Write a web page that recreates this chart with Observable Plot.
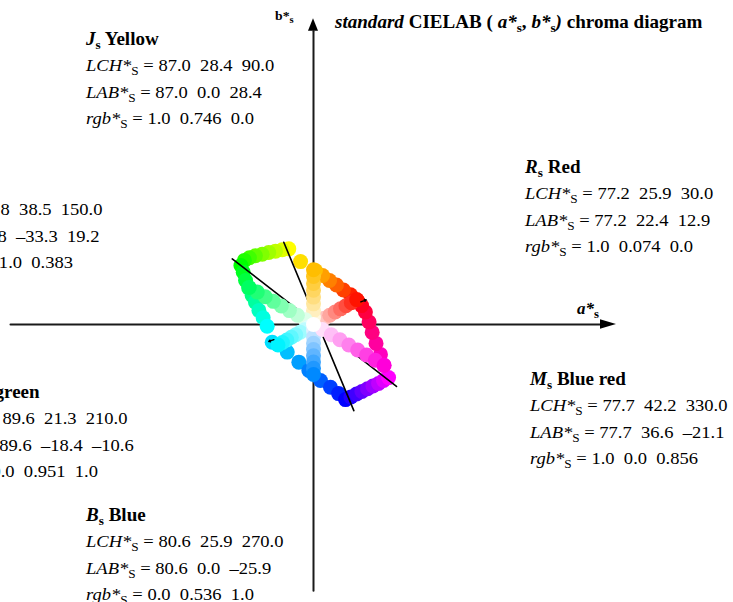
<!DOCTYPE html>
<html>
<head>
<meta charset="utf-8">
<script src="https://cdn.jsdelivr.net/npm/d3@7"></script>
<script src="https://cdn.jsdelivr.net/npm/@observablehq/plot@0.6"></script>
<style>
  html, body { margin: 0; padding: 0; background: #fff; }
  #chart { width: 733px; height: 602px; overflow: hidden; }
</style>
</head>
<body>
<div id="chart"></div>
<script>
// ---- Standard hues of the chroma diagram ----
const hueLetter = ["R", "J", "G", "C", "B", "M"];
const hueName = ["Red", "Yellow", "Green", "Blue green", "Blue", "Blue red"];
const lchL = [77.2, 87.0, 83.8, 89.6, 80.6, 77.7];
const lchC = [25.9, 28.4, 38.5, 21.3, 25.9, 42.2];
const lchH = [30.0, 90.0, 150.0, 210.0, 270.0, 330.0];
const labA = [22.4, 0.0, -33.3, -18.4, 0.0, 36.6];
const labB = [12.9, 28.4, 19.2, -10.6, -25.9, -21.1];
const rgbR = ["1.0", "1.0", "0.0", "0.0", "0.0", "1.0"];
const rgbG = ["0.074", "0.746", "1.0", "0.951", "0.536", "0.0"];
const rgbB = ["0.0", "0.0", "0.383", "1.0", "1.0", "0.856"];
const stdColor = ["#FF1300", "#FFBE00", "#00FF62", "#00F3FF", "#0089FF", "#FF00DA"];

// ---- Steps from the achromatic centre towards each standard hue: [a*, b*, colour] ----
const spokeR = [[2.8, 1.6, "#FFE2DF"], [5.6, 3.2, "#FFC4BF"], [8.4, 4.8, "#FFA79F"], [11.2, 6.5, "#FF8980"], [14.0, 8.1, "#FF6B60"], [16.8, 9.7, "#FF4E40"], [19.6, 11.3, "#FF3020"]];
const spokeJ = [[0.0, 3.6, "#FFF7DF"], [0.0, 7.1, "#FFEFBF"], [0.0, 10.7, "#FFE79F"], [0.0, 14.2, "#FFDE80"], [0.0, 17.8, "#FFD660"], [0.0, 21.3, "#FFCE40"], [0.0, 24.9, "#FFC620"]];
const spokeG = [[-4.2, 2.4, "#DFFFEB"], [-8.3, 4.8, "#BFFFD8"], [-12.5, 7.2, "#9FFFC4"], [-16.7, 9.6, "#80FFB1"], [-20.8, 12.0, "#60FF9D"], [-25.0, 14.4, "#40FF89"], [-29.1, 16.8, "#20FF76"]];
const spokeC = [[-2.3, -1.3, "#DFFEFF"], [-4.6, -2.7, "#BFFCFF"], [-6.9, -4.0, "#9FFBFF"], [-9.2, -5.3, "#80F9FF"], [-11.5, -6.6, "#60F8FF"], [-13.8, -8.0, "#40F6FF"], [-16.1, -9.3, "#20F5FF"]];
const spokeB = [[0.0, -3.2, "#DFF0FF"], [0.0, -6.5, "#BFE2FF"], [0.0, -9.7, "#9FD3FF"], [0.0, -13.0, "#80C4FF"], [0.0, -16.2, "#60B5FF"], [0.0, -19.4, "#40A7FF"], [0.0, -22.7, "#2098FF"]];
const spokeM = [[4.6, -2.6, "#FFDFFA"], [9.2, -5.3, "#FFBFF6"], [13.7, -7.9, "#FF9FF1"], [18.3, -10.6, "#FF80ED"], [22.9, -13.2, "#FF60E8"], [27.5, -15.8, "#FF40E3"], [32.0, -18.5, "#FF20DF"]];

// ---- Device gamut edges R→Y→G→C→B→M→R: [a*, b*, colour] ----
const edgeRY = [[23.0, 12.0, "#FF0000"], [19.2, 15.4, "#FF2000"], [15.5, 17.9, "#FF4000"], [11.9, 20.5, "#FF6000"], [8.3, 22.8, "#FF8000"], [4.7, 25.4, "#FF9F00"], [1.0, 28.0, "#FFBF00"], [-6.7, 32.6, "#FFDF00"], [-12.8, 39.2, "#FFFF00"]];
const edgeYG = [[-16.2, 38.7, "#DFFF00"], [-19.7, 38.0, "#BFFF00"], [-23.2, 37.3, "#9FFF00"], [-26.6, 36.4, "#80FF00"], [-30.1, 35.6, "#60FF00"], [-33.2, 34.6, "#40FF00"], [-35.8, 33.2, "#20FF00"], [-37.6, 30.6, "#00FF00"]];
const edgeGC = [[-36.4, 27.1, "#00FF20"], [-35.2, 22.8, "#00FF40"], [-33.6, 19.0, "#00FF60"], [-31.8, 15.0, "#00FF80"], [-30.1, 11.6, "#00FF9F"], [-28.3, 7.3, "#00FFBF"], [-26.1, 3.5, "#00FFDF"], [-24.0, -0.9, "#00FFFF"]];
const edgeCB = [[-21.4, -9.2, "#00DFFF"], [-13.6, -14.3, "#00BFFF"], [-7.6, -19.5, "#009FFF"], [-2.4, -23.8, "#0080FF"], [3.6, -29.0, "#0060FF"], [8.8, -32.5, "#0040FF"], [13.0, -35.8, "#0020FF"], [16.6, -38.9, "#0000FF"]];
const edgeBM = [[19.4, -37.5, "#2000FF"], [22.3, -36.0, "#4000FF"], [25.1, -34.7, "#6000FF"], [28.0, -33.3, "#8000FF"], [30.8, -31.9, "#9F00FF"], [33.7, -30.6, "#BF00FF"], [36.3, -29.0, "#DF00FF"], [38.9, -27.5, "#FF00FF"]];
const edgeMR = [[36.4, -21.2, "#FF00DF"], [34.7, -15.5, "#FF00BF"], [32.4, -9.8, "#FF009F"], [30.4, -4.1, "#FF0080"], [28.8, 1.3, "#FF0060"], [26.9, 6.5, "#FF0040"], [24.9, 9.8, "#FF0020"]];

// ---- Lines joining opposite corners, and the short R–C markers ----
const lineGM = [[-42.1, 34.0], [43.0, -32.1]];
const lineYB = [[-15.4, 42.6], [20.9, -44.6]];
const tickRC = [[24.5, 11.7, 27.3, 12.8], [-20.5, -7.8, -23.2, -8.8]];

// ---- Axis extents (a*, b* units) ----
const aAxis = [-157, 148.7, 157];
const bAxis = [-138, 152, 158.4];

// ---- Drawing ----
const W = 733, H = 602;
const K = 1.93;             // pixels per a*/b* unit
const X0 = 313, Y0 = 324;   // pixel position of a* = b* = 0

const toRows = list => list.map(([a, b, c]) => ({a, b, c}));
const edgeRows = toRows([...edgeRY, ...edgeYG, ...edgeGC, ...edgeCB, ...edgeBM, ...edgeMR]);
const spokeRows = [spokeR, spokeJ, spokeG, spokeC, spokeB, spokeM]
  .flatMap((s, i) => toRows([...s, [labA[i], labB[i], stdColor[i]]]));
const lineRows = [lineGM, lineYB].flatMap((l, i) => l.map(([a, b]) => ({a, b, k: i})));

const dotR = 7.5;
const plot = Plot.plot({
  width: W,
  height: H,
  margin: 0,
  x: {domain: [-X0 / K, (W - X0) / K], axis: null},
  y: {domain: [-(H - Y0) / K, Y0 / K], axis: null},
  color: {type: "identity"},
  marks: [
    // axes with filled arrowheads
    Plot.line([[aAxis[0], 0], [aAxis[1], 0]], {stroke: "#1a1a1a", strokeWidth: 2}),
    Plot.line([[0, bAxis[0]], [0, bAxis[1]]], {stroke: "#1a1a1a", strokeWidth: 2}),
    Plot.areaY([{x: aAxis[1], y1: -2.4, y2: 2.4}, {x: aAxis[2], y1: 0, y2: 0}], {x: "x", y1: "y1", y2: "y2", fill: "#000"}),
    Plot.areaX([{y: bAxis[1], x1: -2.6, x2: 2.6}, {y: bAxis[2], x1: 0, x2: 0}], {y: "y", x1: "x1", x2: "x2", fill: "#000"}),
    // gamut edge dots
    Plot.dot(edgeRows, {x: "a", y: "b", fill: "c", r: dotR}),
    // corner-to-corner lines
    Plot.line(lineRows, {x: "a", y: "b", z: "k", stroke: "#000", strokeWidth: 1.6}),
    // steps from the centre to the standard hues
    Plot.dot(spokeRows, {x: "a", y: "b", fill: "c", r: dotR}),
    Plot.dot([[0, 0]], {fill: "#fff", r: dotR}),
    // R–C markers
    Plot.arrow(tickRC, {x1: d => d[0], y1: d => d[1], x2: d => d[2], y2: d => d[3], stroke: "#000", strokeWidth: 1.3, headLength: 4})
  ]
});
document.getElementById("chart").appendChild(plot);

// ---- Text with italics and subscripts ----
const svg = d3.select(plot);
const txt = svg.append("g")
  .attr("font-family", "'Liberation Serif', 'Times New Roman', serif")
  .attr("text-anchor", "start")
  .attr("fill", "#000")
  .style("white-space", "pre");

const SX = 1.06; // horizontal stretch of the lettering
function rich(x, y, size, parts, bold) {
  const t = txt.append("text")
    .attr("transform", `translate(${x},${y}) scale(${SX},1)`)
    .attr("font-size", size);
  if (bold) t.attr("font-weight", "bold");
  let shift = 0;
  for (const p of parts) {
    const s = t.append("tspan").text(p.t);
    if (p.i) s.attr("font-style", "italic");
    const want = p.sub ? p.sub : 0;
    if (want !== shift) { s.attr("dy", want - shift); shift = want; }
    if (p.size) s.attr("font-size", p.size);
  }
  return t;
}

const fmt = v => v.toFixed(1).replace("-", "\u2013");
const labelAt = [[525, 173], [86, 45], [-95, 189], [-70, 398], [86, 521], [530, 385]];
const FS = 17.5, TS = 18, SUB = 12.5, LEAD = 26.4;
hueLetter.forEach((h, i) => {
  const [x, y] = labelAt[i];
  rich(x, y, TS, [{t: h, i: 1}, {t: "s", sub: 4, size: SUB}, {t: " " + hueName[i]}], true);
  rich(x, y + LEAD, FS, [{t: "LCH*", i: 1}, {t: "S", sub: 4, size: SUB},
    {t: ` = ${fmt(lchL[i])}  ${fmt(lchC[i])}  ${fmt(lchH[i])}`}]);
  rich(x, y + 2 * LEAD, FS, [{t: "LAB*", i: 1}, {t: "S", sub: 4, size: SUB},
    {t: ` = ${fmt(lchL[i])}  ${fmt(labA[i])}  ${fmt(labB[i])}`}]);
  rich(x, y + 3 * LEAD, FS, [{t: "rgb*", i: 1}, {t: "S", sub: 4, size: SUB},
    {t: ` = ${rgbR[i]}  ${rgbG[i]}  ${rgbB[i]}`}]);
});

// title and axis names
rich(335, 28, 18, [{t: "standard", i: 1}, {t: " CIELAB ( "}, {t: "a*", i: 1}, {t: "s", sub: 4, size: 12.5},
  {t: ", "}, {t: "b*", i: 1}, {t: "s", sub: 4, size: 12.5}, {t: ") ", i: 1}, {t: "chroma diagram"}], true);
rich(275, 20, 13, [{t: "b*"}, {t: "s", sub: 3, size: 10}], true);
rich(577, 314, 16, [{t: "a*", i: 1}, {t: "s", sub: 4, size: 12}], true);
</script>
</body>
</html>
